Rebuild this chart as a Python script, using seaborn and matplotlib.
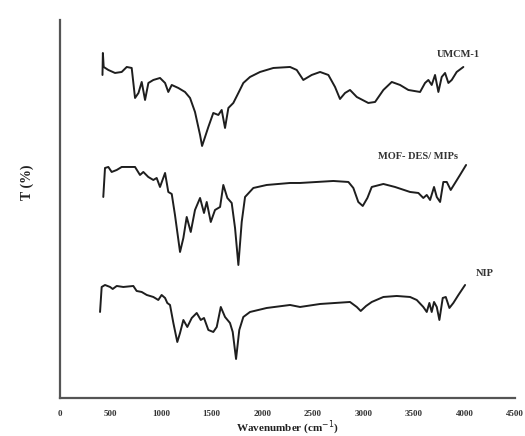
import matplotlib
matplotlib.use("Agg")
import matplotlib.pyplot as plt
import seaborn as sns
import pandas as pd

# FTIR spectra (wavenumber in cm^-1, transmittance in offset arbitrary units)
umcm_wn = [420, 424, 432, 478, 544, 610, 660, 709, 742, 776, 808, 841, 874, 923, 989,
           1039, 1071, 1105, 1170, 1236, 1286, 1335, 1385, 1405, 1467, 1516, 1566, 1599,
           1632, 1665, 1714, 1764, 1813, 1879, 1978, 2110, 2275, 2341, 2406, 2489, 2572,
           2654, 2720, 2769, 2819, 2868, 2935, 3049, 3116, 3198, 3281, 3363, 3445, 3561,
           3610, 3643, 3676, 3709, 3742, 3775, 3808, 3841, 3874, 3923, 3989]
umcm_t = [325, 347, 333, 330, 327, 328, 333, 332, 302, 307, 318, 300, 317, 320, 322,
          317, 308, 315, 312, 308, 302, 288, 265, 254, 273, 287, 285, 290,
          272, 292, 297, 307, 317, 323, 328, 332, 333, 330, 320, 325, 328,
          325, 313, 301, 307, 310, 303, 297, 298, 310, 318, 315, 310, 308,
          317, 320, 315, 325, 308, 323, 327, 317, 320, 328, 333]

mof_wn = [428, 445, 478, 511, 561, 610, 676, 742, 791, 824, 873, 923, 956, 989, 1039,
          1071, 1105, 1137, 1187, 1220, 1253, 1293, 1335, 1385, 1424, 1451, 1491, 1533,
          1583, 1615, 1655, 1698, 1731, 1764, 1797, 1830, 1912, 2044, 2275, 2374, 2703,
          2852, 2901, 2950, 2994, 3040, 3083, 3198, 3313, 3462, 3544, 3593, 3627, 3660,
          3699, 3726, 3759, 3791, 3825, 3864, 3907, 3956, 4016]
mof_t = [203, 232, 233, 228, 230, 233, 233, 233, 225, 228, 223, 220, 222, 213, 227,
         208, 206, 185, 148, 162, 183, 168, 190, 202, 187, 198, 178, 190,
         193, 215, 202, 197, 172, 135, 178, 203, 212, 215, 217, 217, 219,
         218, 212, 198, 194, 202, 213, 216, 213, 208, 207, 202, 205, 200,
         213, 203, 198, 218, 218, 210, 217, 225, 235]

nip_wn = [396, 412, 445, 495, 521, 561, 626, 725, 758, 808, 858, 923, 972, 1005, 1039,
          1061, 1088, 1121, 1160, 1187, 1220, 1259, 1303, 1352, 1392, 1424, 1467, 1516,
          1550, 1590, 1632, 1681, 1708, 1741, 1773, 1813, 1879, 2044, 2275, 2374, 2572,
          2868, 2935, 2974, 3027, 3083, 3198, 3330, 3462, 3528, 3593, 3627, 3653, 3676,
          3699, 3726, 3752, 3785, 3815, 3851, 3890, 3940, 4006]
nip_t = [88, 113, 115, 113, 111, 114, 113, 114, 109, 108, 105, 103, 100, 105, 102,
         97, 95, 77, 58, 67, 80, 73, 82, 87, 80, 82, 70, 68,
         73, 93, 83, 77, 68, 41, 70, 83, 88, 92, 95, 93, 96,
         98, 93, 89, 94, 98, 103, 104, 103, 100, 93, 88, 97, 88,
         98, 93, 80, 102, 103, 92, 97, 105, 115]

series_names = ["UMCM-1", "MOF- DES/ MIPs", "NIP"]
x_ticks = [0, 500, 1000, 1500, 2000, 2500, 3000, 3500, 4000, 4500]

frames = []
for name, wn, t in zip(series_names, [umcm_wn, mof_wn, nip_wn], [umcm_t, mof_t, nip_t]):
    frames.append(pd.DataFrame({"wn": wn, "T": t, "sample": name}))
df = pd.concat(frames, ignore_index=True)

sns.set_style("white")
plt.rcParams["font.family"] = ["Liberation Serif", "DejaVu Serif"]

fig = plt.figure(figsize=(5.25, 4.36), dpi=100)
ax = fig.add_axes([0.1143, 0.0872, 0.8667, 0.867])

sns.lineplot(data=df, x="wn", y="T", units="sample", estimator=None, sort=False,
             color="#1e1e1e", linewidth=1.4, ax=ax, legend=False)

ax.set_xlim(0, 4500)
ax.set_ylim(2, 380)
ax.set_xticks(x_ticks)
ax.set_xticklabels([str(v) for v in x_ticks], fontsize=6.5, fontweight="bold", color="#333333")
ax.set_yticks([])
ax.tick_params(axis="x", length=0, pad=9)

for side in ["top", "right"]:
    ax.spines[side].set_visible(False)
for side in ["left", "bottom"]:
    ax.spines[side].set_color("#555555")
    ax.spines[side].set_linewidth(1.6)

ax.set_xlabel("Wavenumber (cm$^{-1}$)", fontsize=8, fontweight="bold", color="#222222")
ax.xaxis.set_label_coords(0.5, -0.056)
ax.set_ylabel("T (%)", fontsize=10, fontweight="bold", color="#222222")
ax.yaxis.set_label_coords(-0.058, 0.57)

label_style = dict(fontsize=7.5, fontweight="bold", color="#333333", va="center", ha="left")
ax.text(3730, 345, "UMCM-1", **label_style)
ax.text(3145, 243, "MOF- DES/ MIPs", **label_style)
ax.text(4115, 126, "NIP", **label_style)

fig.savefig("out.png", dpi=100)
